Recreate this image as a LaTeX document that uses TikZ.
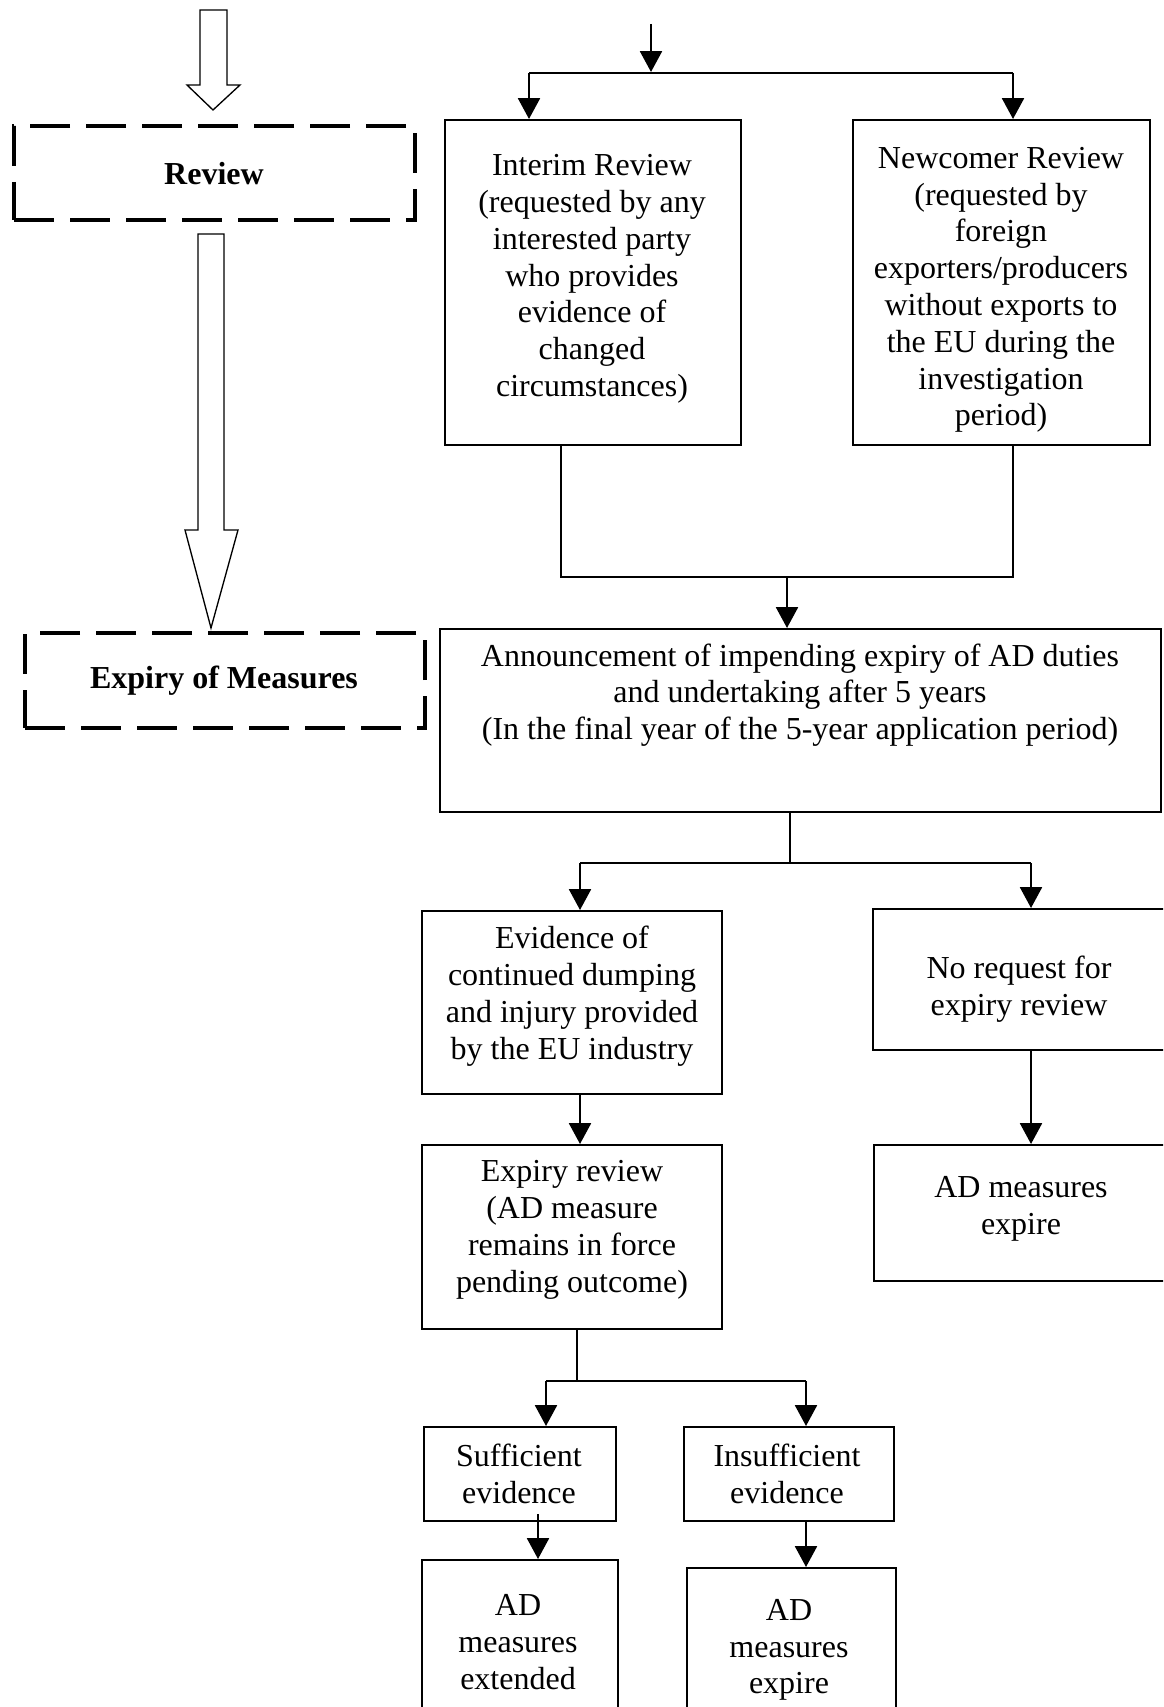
\documentclass[tikz,border=0pt]{standalone}
\usepackage{fontspec}
\setmainfont{Liberation Serif}
\usetikzlibrary{arrows.meta,fit}
\begin{document}
\begin{tikzpicture}[x=0.375pt,y=-0.375pt,
  box/.style={draw, line width=0.75pt, inner sep=0pt},
  dbox/.style={draw, line width=1.5pt, inner sep=0pt, dash pattern=on 15pt off 6pt},
  txt/.style={align=center, inner sep=0pt, font=\fontsize{12}{13.8}\selectfont},
  btxt/.style={align=center, inner sep=0pt, font=\fontsize{12}{13.8}\selectfont\bfseries},
  conn/.style={line width=0.85pt},
  arr/.style={conn, -{Triangle[length=7.8pt,width=8.2pt]}},
  hollow/.style={draw, line width=0.5pt, fill=white, line join=miter}]
\useasboundingbox (0,0) rectangle (1163,1707);
\begin{scope}
\clip (0,0) rectangle (1163,1707);

% left column
\node[dbox, fit={(14,126) (415,220)}] (rev) {};
\node[btxt] (revt) at (214,174) {Review};
\node[dbox, fit={(25,633) (425,728)}] (exm) {};
\node[btxt] (exmt) at (224,681) {Expiry of Measures};
\draw[hollow] (200,10) -- (227,10) -- (227,85) -- (240,85) -- (213,110) -- (187,85) -- (200,85) -- cycle;
\draw[hollow] (198,234) -- (224,234) -- (224,530) -- (238,530) -- (211,628) -- (185,530) -- (198,530) -- cycle;

% review boxes
\node[box, fit={(445,120) (741,445)}] (ir) {};
\node[txt] (irt) at (592,279) {Interim Review\\(requested by any\\interested party\\who provides\\evidence of\\changed\\circumstances)};
\node[box, fit={(853,120) (1150,445)}] (nr) {};
\node[txt] (nrt) at (1001,290) {Newcomer Review\\(requested by\\foreign\\exporters/producers\\without exports to\\the EU during the\\investigation\\period)};

\coordinate (top) at (651,24);
\coordinate (tj) at (651,72);
\coordinate (b1) at (529,73);
\coordinate (b2) at (1013,73);
\draw[arr] (top) -- (tj);
\draw[conn] (b1) -- (b2);
\draw[arr] (b1) -- (b1 |- ir.north);
\draw[arr] (b2) -- (b2 |- nr.north);

% announcement
\node[box, fit={(440,629) (1161,812)}] (ann) {};
\node[txt] (annt) at (800,695) {Announcement of impending expiry of AD duties\\and undertaking after 5 years\\(In the final year of the 5-year application period)};

\coordinate (m1) at (561,577);
\coordinate (m2) at (1013,577);
\coordinate (m3) at (787,577);
\draw[conn] (ir.south -| m1) -- (m1) -- (m2) -- (nr.south -| m2);
\draw[arr] (m3) -- (m3 |- ann.north);

% second level
\node[box, fit={(422,911) (722,1094)}] (ev) {};
\node[txt] (evt) at (572,996) {Evidence of\\continued dumping\\and injury provided\\by the EU industry};
\node[box, fit={(873,909) (1175,1050)}] (nq) {};
\node[txt] (nqt) at (1019,989) {No request for\\expiry review};

\coordinate (s0) at (790,863);
\coordinate (s1) at (580,863);
\coordinate (s2) at (1031,863);
\draw[conn] (ann.south -| s0) -- (s0);
\draw[conn] (s1) -- (s2);
\draw[arr] (s1) -- (s1 |- ev.north);
\draw[arr] (s2) -- (s2 |- nq.north);

\node[box, fit={(422,1145) (722,1329)}] (er) {};
\node[txt] (ert) at (572,1230) {Expiry review\\(AD measure\\remains in force\\pending outcome)};
\node[box, fit={(874,1145) (1175,1281)}] (ad1) {};
\node[txt] (ad1t) at (1021,1209) {AD measures\\expire};

\draw[arr] (ev.south -| s1) -- (er.north -| s1);
\draw[arr] (nq.south -| s2) -- (ad1.north -| s2);

% third level
\node[box, fit={(424,1427) (616,1521)}] (suf) {};
\node[txt] (suft) at (519,1474) {Sufficient\\evidence};
\node[box, fit={(684,1427) (894,1521)}] (ins) {};
\node[txt] (inst) at (787,1474) {Insufficient\\evidence};

\coordinate (u0) at (577,1381);
\coordinate (u1) at (546,1381);
\coordinate (u2) at (806,1381);
\draw[conn] (er.south -| u0) -- (u0);
\draw[conn] (u1) -- (u2);
\draw[arr] (u1) -- (u1 |- suf.north);
\draw[arr] (u2) -- (u2 |- ins.north);

\node[box, fit={(422,1560) (618,1725)}] (ade) {};
\node[txt] (adet) at (518,1642) {AD\\measures\\extended};
\node[box, fit={(687,1568) (896,1725)}] (ad2) {};
\node[txt] (ad2t) at (789,1650) {AD\\measures\\expire};

\coordinate (v1) at (538,1514);
\draw[arr] (v1) -- (v1 |- ade.north);
\draw[arr] (ins.south -| u2) -- (ad2.north -| u2);
\end{scope}
\end{tikzpicture}
\end{document}
